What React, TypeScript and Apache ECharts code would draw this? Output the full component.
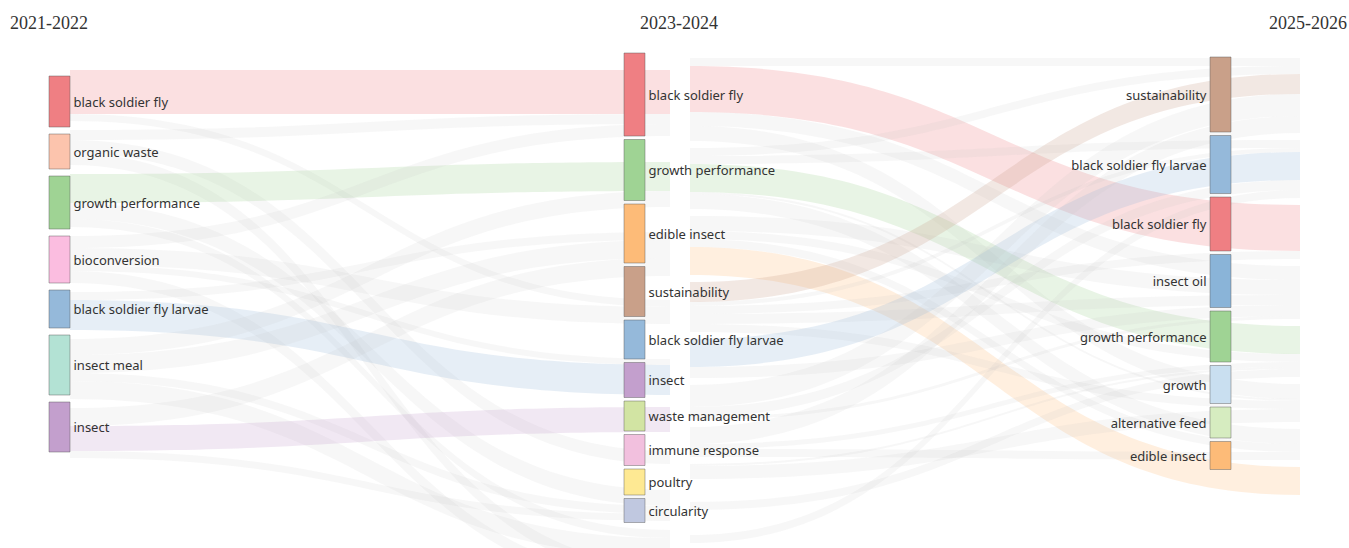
import React, { useEffect, useRef } from "react";
import * as echarts from "echarts";

const periods = ["2021-2022", "2023-2024", "2025-2026"];

const themes2021 = ["black soldier fly", "organic waste", "growth performance", "bioconversion", "black soldier fly larvae", "insect meal", "insect"];
const themes2023 = ["black soldier fly", "growth performance", "edible insect", "sustainability", "black soldier fly larvae", "insect", "waste management", "immune response", "poultry", "circularity"];
const themes2025 = ["sustainability", "black soldier fly larvae", "black soldier fly", "insect oil", "growth performance", "growth", "alternative feed", "edible insect"];

// [source theme, target theme, weight]
const links2021to2023: [string, string, number][] = [
  ["black soldier fly", "black soldier fly", 44],
  ["black soldier fly", "sustainability", 7],
  ["organic waste", "waste management", 13],
  ["organic waste", "circularity", 12],
  ["organic waste", "black soldier fly", 10],
  ["growth performance", "growth performance", 29],
  ["growth performance", "immune response", 16],
  ["growth performance", "poultry", 8],
  ["bioconversion", "black soldier fly", 12],
  ["bioconversion", "circularity", 12],
  ["bioconversion", "sustainability", 17],
  ["bioconversion", "black soldier fly larvae", 6],
  ["black soldier fly larvae", "black soldier fly larvae", 30],
  ["black soldier fly larvae", "edible insect", 8],
  ["insect meal", "edible insect", 18],
  ["insect meal", "poultry", 18],
  ["insect meal", "growth performance", 16],
  ["insect meal", "immune response", 8],
  ["insect", "insect", 25],
  ["insect", "edible insect", 18],
  ["insect", "immune response", 7],
];

const links2023to2025: [string, string, number][] = [
  ["black soldier fly", "black soldier fly", 46],
  ["black soldier fly", "sustainability", 8],
  ["black soldier fly", "insect oil", 14],
  ["black soldier fly", "growth", 15],
  ["growth performance", "growth performance", 28],
  ["growth performance", "alternative feed", 15],
  ["growth performance", "growth", 2],
  ["growth performance", "black soldier fly larvae", 8],
  ["growth performance", "sustainability", 8],
  ["edible insect", "edible insect", 28],
  ["edible insect", "insect oil", 15],
  ["edible insect", "alternative feed", 8],
  ["edible insect", "growth performance", 8],
  ["sustainability", "sustainability", 20],
  ["sustainability", "black soldier fly", 8],
  ["sustainability", "black soldier fly larvae", 4],
  ["sustainability", "insect oil", 10],
  ["sustainability", "growth", 8],
  ["black soldier fly larvae", "black soldier fly larvae", 28],
  ["black soldier fly larvae", "insect oil", 11],
  ["insect", "sustainability", 22],
  ["insect", "black soldier fly larvae", 10],
  ["insect", "insect oil", 3],
  ["waste management", "sustainability", 17],
  ["waste management", "alternative feed", 8],
  ["waste management", "growth performance", 5],
  ["immune response", "growth", 13],
  ["immune response", "growth performance", 2],
  ["poultry", "growth performance", 8],
  ["circularity", "black soldier fly larvae", 8],
];

const themeColors: Record<string, string> = {
  "black soldier fly": "#ef7f83",
  "organic waste": "#fcc4ad",
  "growth performance": "#9fd394",
  "bioconversion": "#fbbde0",
  "black soldier fly larvae": "#95b9da",
  "insect meal": "#b3e2d4",
  "insect": "#c39fcd",
  "edible insect": "#fdbb78",
  "sustainability": "#c9a089",
  "waste management": "#d2e4a3",
  "immune response": "#f2c0de",
  "poultry": "#fee993",
  "circularity": "#c0c8e0",
  "insect oil": "#8ab4d8",
  "growth": "#c9dff0",
  "alternative feed": "#d6ecc0",
};

const themesByPeriod = [themes2021, themes2023, themes2025];
const linksByStep = [links2021to2023, links2023to2025];

function nodeId(p: number, term: string) {
  return p + ":" + term;
}

export default function App() {
  const ref = useRef<HTMLDivElement>(null);
  useEffect(() => {
    if (!ref.current) return;
    const chart = echarts.init(ref.current, undefined, { renderer: "svg" });

    const baseNodes = themesByPeriod.flatMap((terms, p) =>
      terms.map((term) => ({ name: nodeId(p, term), term, depth: p, period: p }))
    );
    const baseLinks = linksByStep.flatMap((list, s) =>
      list.map(([a, b, v]) => ({
        source: nodeId(s, a),
        target: nodeId(s + 1, b),
        value: v,
        same: a === b,
        term: a,
        step: s,
      }))
    );

    // node size = max(total inflow, total outflow) over the whole evolution
    const inSum: Record<string, number> = {};
    const outSum: Record<string, number> = {};
    baseLinks.forEach((l) => {
      outSum[l.source] = (outSum[l.source] || 0) + l.value;
      inSum[l.target] = (inSum[l.target] || 0) + l.value;
    });
    const nodeTotal = (name: string) => Math.max(inSum[name] || 0, outSum[name] || 0);

    const nodesForColumn = (col: number) =>
      baseNodes.map((n) =>
        n.period === col
          ? {
              name: n.name,
              term: n.term,
              depth: n.depth,
              itemStyle: { color: themeColors[n.term], borderColor: "rgba(90,90,90,0.45)", borderWidth: 1 },
              label: { show: true, position: n.period === 2 ? "left" : "right" },
            }
          : {
              name: n.name,
              term: n.term,
              depth: n.depth,
              itemStyle: { opacity: 0 },
              label: { show: false },
            }
      );

    const plainLinks = baseLinks.map((l) => ({ source: l.source, target: l.target, value: l.value }));

    const nodeSeries = (col: number, box: Record<string, number>, gap: number) => ({
      type: "sankey",
      ...box,
      nodeWidth: 21,
      nodeGap: gap,
      layoutIterations: 0,
      draggable: false,
      silent: true,
      emphasis: { disabled: true },
      label: {
        show: true,
        distance: 3,
        color: "#333",
        fontFamily: "Noto Sans",
        fontSize: 13,
        formatter: (p: any) => p.data.term,
      },
      lineStyle: { opacity: 0 },
      data: nodesForColumn(col),
      links: plainLinks,
    });

    // one flow series per step between two periods
    const flowSeries = (step: number, box: Record<string, number>, gap: number) => ({
      type: "sankey",
      ...box,
      nodeWidth: 20,
      nodeGap: gap,
      layoutIterations: 0,
      draggable: false,
      silent: true,
      emphasis: { disabled: true },
      label: { show: false },
      lineStyle: { curveness: 0.5 },
      data: baseNodes
        .filter((n) => n.period === step || n.period === step + 1)
        .map((n) => ({
          name: n.name,
          depth: n.period - step,
          value: nodeTotal(n.name),
          itemStyle: { opacity: 0 },
        })),
      links: baseLinks
        .filter((l) => l.step === step)
        .map((l) => ({
          source: l.source,
          target: l.target,
          value: l.value,
          lineStyle: l.same
            ? { color: themeColors[l.term], opacity: 0.24 }
            : { color: "#c4c4c4", opacity: 0.13 },
        })),
    });

    const titleFont = "18px 'Liberation Serif'";

    chart.setOption({
      animation: false,
      backgroundColor: "#ffffff",
      tooltip: { show: false },
      graphic: [
        { type: "text", left: 10, top: 14, style: { text: periods[0], font: titleFont, fill: "#333" } },
        { type: "text", left: 640, top: 14, style: { text: periods[1], font: titleFont, fill: "#333" } },
        { type: "text", right: 2, top: 14, style: { text: periods[2], font: titleFont, fill: "#333" } },
      ],
      series: [
        flowSeries(0, { left: 50, width: 640, top: 70, height: 519 }, 9),
        flowSeries(1, { left: 670, width: 650, top: 58, height: 501 }, 7),
        nodeSeries(0, { left: 49, right: 118, top: 76, height: 501 }, 7),
        nodeSeries(1, { left: 49, right: 129, top: 53, height: 469.5 }, 3.5),
        nodeSeries(2, { left: 49, right: 118, top: 57, height: 469.5 }, 3.5),
      ],
    });
    return () => chart.dispose();
  }, []);

  return (
    <div
      ref={ref}
      style={{ position: "absolute", left: 0, top: 0, width: 1349, height: 548 }}
    />
  );
}
